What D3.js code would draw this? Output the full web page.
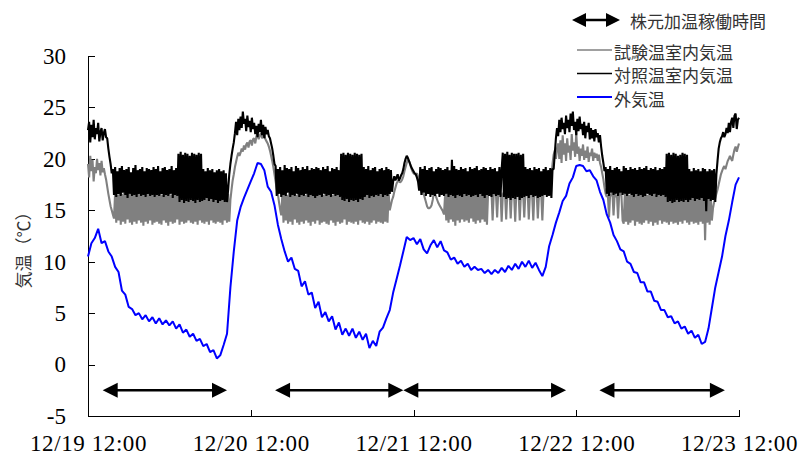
<!DOCTYPE html>
<html>
<head>
<meta charset="utf-8">
<script src="https://cdn.jsdelivr.net/npm/d3@7"></script>
<style>
  body { margin: 0; background: #fff; }
  svg { display: block; }
  .axis path, .axis line { stroke: #000; shape-rendering: crispEdges; }
</style>
</head>
<body>
<svg id="chart" width="800" height="455"></svg>
<script>
// ---- data ----
const startTime = "12/19 12:00";
const endTime = "12/23 12:00";
const greenhouseStepMin = 10;   // 試験 / 対照 sampled every 10 min
const outsideStepMin = 30;      // 外気温 every 30 min

const xTickLabels = ["12/19 12:00", "12/20 12:00", "12/21 12:00", "12/22 12:00", "12/23 12:00"];
const yTicks = [-5, 0, 5, 10, 15, 20, 25, 30];

const seriesNames = ["試験温室内気温", "対照温室内気温", "外気温"];
const heatingLabel = "株元加温稼働時間";
const heatingPeriods = [
  ["12/19 14:10", "12/20 08:30"],
  ["12/20 15:35", "12/21 10:30"],
  ["12/21 10:30", "12/22 10:30"],
  ["12/22 15:25", "12/23 09:55"]
];
const heatingArrowLevel = -2.5;

// 試験温室内気温 (gray)
const testHouse = [
  // 12/19 12:00 -
  19.5,18.2,20.3,18.8,19.9,17.8,19.2,18.6,20.0,18.9,19.6,18.4,19.8,18.7,19.1,
  18.5,18.0,17.3,16.6,16.0,15.4,15.0,14.6,14.2,
  // heating 1
  16.7,13.8,16.5,14.0,16.8,13.6,16.6,13.9,16.7,13.7,
  16.5,14.1,16.8,13.8,16.6,13.6,16.7,13.9,16.5,13.7,
  16.8,14.0,16.6,13.8,16.7,13.5,16.5,13.9,16.8,13.7,
  16.6,14.0,16.7,13.6,16.5,13.8,16.8,13.9,16.6,13.7,
  16.7,13.6,16.5,14.0,16.8,13.8,16.6,13.5,16.7,13.9,
  16.5,13.7,16.8,13.8,16.6,14.1,16.7,13.6,16.5,13.9,
  16.8,13.7,16.6,13.8,16.7,14.0,16.5,13.8,16.6,13.7,
  16.8,13.9,16.5,13.6,16.7,14.0,16.6,13.8,16.8,13.7,
  16.5,13.9,16.7,13.6,16.6,14.0,16.8,13.8,16.5,13.7,
  16.7,13.9,16.6,13.8,16.8,13.6,16.5,14.0,16.7,13.8,
  16.6,13.9,
  // 12/20 daytime
  16.0,17.0,17.9,18.5,19.2,19.7,20.2,20.6,20.3,20.6,
  21.0,20.7,21.3,20.9,21.4,21.6,21.1,21.7,21.8,21.3,
  21.9,22.0,21.5,22.2,22.4,21.9,22.3,22.5,22.0,22.3,
  22.3,21.9,21.7,21.5,21.2,20.8,20.3,19.8,19.2,18.5,
  17.8,17.1,16.6,15.8,15.1,14.5,
  // heating 2
  16.6,13.8,16.8,14.0,16.5,13.7,16.7,13.9,16.6,13.6,
  16.8,14.1,16.5,13.8,16.7,13.6,16.6,13.9,16.8,13.7,
  16.5,14.0,16.7,13.8,16.6,13.5,16.8,13.9,16.5,13.7,
  16.7,14.0,16.6,13.6,16.8,13.8,16.5,13.9,16.7,13.7,
  16.6,13.6,16.8,14.0,16.5,13.8,16.7,13.5,16.6,13.9,
  16.8,13.7,16.5,13.8,16.7,14.1,16.6,13.6,16.8,13.9,
  16.5,13.8,16.7,13.7,16.6,13.9,16.8,13.6,16.5,14.0,
  16.7,13.8,16.6,13.7,16.8,13.9,16.5,13.6,16.7,13.8,
  16.6,14.0,16.8,13.7,16.5,13.9,16.7,13.8,16.6,13.7,
  16.8,13.9,16.5,13.8,16.7,
  // 12/21 morning
  15.0,15.5,16.0,16.3,16.8,17.2,17.6,17.8,17.9,17.7,
  17.8,18.0,18.3,18.8,19.2,19.6,19.9,19.8,19.5,19.1,
  18.8,18.6,18.5,18.5,18.6,18.3,17.8,17.2,16.8,16.6,
  16.6,16.2,15.8,15.4,15.2,15.2,15.3,15.5,16.0,16.7,
  16.6,16.3,16.0,15.7,15.5,15.3,15.1,14.9,14.6,
  // heating 3
  16.6,14.0,16.8,13.8,16.5,14.1,16.7,13.9,16.6,13.5,
  16.8,14.0,16.5,13.8,16.7,14.1,16.6,13.9,16.8,14.0,
  16.5,13.8,16.7,14.2,16.6,13.9,16.8,13.7,16.5,14.0,
  16.7,13.8,16.6,14.1,16.8,13.9,16.5,13.6,16.7,
  16.7,16.5,16.8,14.0,16.6,16.7,16.5,14.3,16.8,16.6,16.7,13.9,
  16.5,16.8,16.6,14.1,16.7,16.5,16.8,14.2,16.6,16.7,16.5,13.9,
  16.8,16.6,16.7,14.0,16.5,16.8,16.6,14.3,16.7,16.5,16.8,14.1,
  16.6,16.7,16.5,14.0,16.8,16.6,16.7,14.2,16.5,16.8,16.6,14.0,
  16.7,16.6,16.8,
  // 12/22 daytime
  16.8,16.9,17.0,17.6,18.4,19.5,20.4,20.8,20.0,21.0,21.5,
  20.0,21.8,19.6,22.3,20.4,21.5,19.8,22.0,20.6,21.3,
  19.9,22.4,20.8,21.6,20.2,22.5,20.5,21.2,19.8,21.0,
  20.3,21.4,19.9,20.8,20.1,21.2,19.7,20.6,20.3,21.0,
  19.8,20.6,20.1,20.5,19.8,20.4,19.6,
  19.2,18.6,18.0,17.2,16.6,16.3,
  // heating 4
  16.5,14.3,16.6,16.4,16.7,14.5,16.6,16.3,16.5,14.2,16.6,16.7,16.4,14.0,
  13.7,16.6,13.9,16.8,13.6,16.5,13.8,16.7,14.0,16.6,
  13.5,16.8,13.9,16.5,13.7,16.7,13.6,16.6,13.8,16.8,
  14.0,16.5,13.7,16.7,13.9,16.6,13.5,16.8,13.8,16.5,
  13.6,16.7,14.0,16.6,13.7,16.8,13.9,16.5,13.8,16.7,
  13.6,16.6,13.9,16.8,13.7,16.5,13.8,16.7,13.6,16.6,
  13.9,16.8,13.7,16.5,14.0,16.7,13.8,16.6,13.6,16.8,
  13.9,16.5,13.7,16.7,13.8,16.6,13.6,16.8,13.9,16.5,
  13.7,16.7,12.1,16.6,13.8,16.8,13.6,16.5,14.0,
  // 12/23 morning
  15.2,15.8,16.2,16.6,17.0,17.5,18.0,18.5,18.8,19.1,19.3,19.0,
  19.4,19.8,20.0,20.3,20.0,19.8,20.4,20.9,21.2,20.7,21.1,21.5
];

// 対照温室内気温 (black)
const controlHouse = [
  // 12/19 12:00 -
  22.8,23.6,21.6,23.3,22.1,23.8,21.9,23.0,22.4,23.5,21.7,22.6,23.0,21.8,22.5,22.9,22.1,
  22.0,21.0,20.2,19.5,18.6,
  // heating 1
  19.0,16.5,19.2,16.3,18.8,16.6,19.1,16.4,19.3,16.7,18.9,16.5,19.0,16.2,19.2,16.6,18.7,16.4,19.1,16.5,
  19.4,16.3,18.9,16.6,19.0,16.4,19.2,16.5,18.8,16.3,19.1,16.6,19.0,16.4,18.9,16.5,19.2,16.3,19.0,16.5,
  19.3,16.4,18.8,16.6,19.1,16.3,19.2,16.5,18.9,16.4,19.0,16.6,19.3,16.2,18.9,16.5,19.1,16.4,
  20.5,15.8,20.7,16.0,20.4,15.7,20.6,15.9,20.5,15.8,20.3,16.0,20.6,15.9,20.5,15.7,20.4,16.0,20.6,15.8,
  20.5,15.9,
  19.0,16.0,18.8,16.2,19.1,15.9,18.9,16.1,19.0,15.8,18.7,16.0,18.9,15.7,19.0,15.9,18.8,16.0,18.9,15.8,
  18.6,15.8,
  // 12/20 daytime
  17.0,18.5,19.5,20.3,21.0,21.6,
  22.5,23.6,22.3,23.9,22.8,24.1,23.0,24.6,23.4,23.9,
  22.7,24.2,23.1,23.7,22.6,24.0,22.9,23.5,22.4,23.2,
  22.1,23.4,22.6,23.8,22.3,23.3,22.0,23.1,22.4,22.8,22.2,
  22.0,21.5,21.0,20.3,19.5,
  // heating 2
  19.3,16.4,19.0,16.6,19.2,16.3,18.9,16.5,19.4,16.4,19.1,16.7,19.0,16.3,19.2,16.5,18.8,16.4,19.3,16.6,
  19.1,16.3,18.9,16.5,19.2,16.4,19.0,16.6,19.3,16.3,18.9,16.5,19.1,16.4,19.0,16.2,19.2,16.4,19.1,16.5,
  18.9,16.3,19.2,16.6,19.0,16.4,19.3,16.5,18.8,16.3,19.1,16.6,19.0,16.4,19.2,16.5,18.9,16.3,
  20.5,16.0,20.6,15.9,20.4,16.1,20.6,15.8,20.5,16.0,20.4,15.9,20.6,16.0,20.5,15.8,20.4,16.1,20.5,16.0,
  19.2,16.3,19.0,16.5,19.3,16.2,18.9,16.4,19.1,16.3,19.2,16.5,18.8,16.4,19.0,16.6,19.1,16.3,18.9,16.5,
  19.2,16.4,19.0,16.6,18.9,16.8,
  // 12/21 morning
  17.8,18.3,17.9,18.2,18.5,17.9,18.1,18.4,18.6,19.0,19.6,20.0,
  20.3,20.1,19.8,19.5,19.2,19.0,18.8,18.6,18.5,18.2,17.8,
  // heating 3
  16.9,19.2,16.5,19.0,16.7,19.3,16.4,18.9,16.6,19.1,
  16.3,19.2,16.5,18.8,16.4,19.0,16.6,19.2,16.3,19.1,
  16.5,18.9,16.4,19.0,16.6,19.2,16.3,18.9,16.5,19.9,
  16.4,19.3,16.2,19.0,16.5,18.9,16.4,19.2,16.3,19.0,
  16.6,19.1,16.4,18.8,16.5,19.2,16.3,19.0,16.4,19.1,
  16.5,19.3,16.3,18.9,16.6,19.0,16.4,19.2,16.2,19.1,
  16.5,18.9,16.4,19.2,16.3,19.0,16.6,19.1,16.4,18.8,
  16.5,19.2,16.3,19.0,
  20.6,16.3,20.5,16.1,20.7,16.2,20.4,16.0,20.6,16.2,20.5,16.1,20.5,16.3,20.6,16.0,20.4,16.2,20.5,
  16.3,19.2,16.4,19.0,16.2,19.1,16.5,18.9,16.3,19.2,16.4,19.0,16.2,19.1,16.3,18.8,16.4,19.0,16.5,19.2,
  16.3,18.9,16.4,19.1,16.2,19.0,
  // 12/22 daytime
  19.0,20.5,22.0,23.0,
  22.2,23.8,22.6,24.0,22.9,23.5,22.4,24.2,23.0,23.8,
  22.6,24.4,23.2,24.6,22.8,23.6,22.3,23.9,22.7,24.1,
  22.9,23.4,22.3,23.6,22.0,23.2,22.6,23.5,21.9,23.0,
  22.0,22.8,21.7,22.9,22.1,22.5,21.6,22.3,
  21.2,20.3,19.6,18.8,
  // heating 4
  19.2,16.6,19.0,16.4,19.3,16.7,18.9,16.5,19.1,16.6,
  19.2,16.4,19.0,16.7,18.8,16.5,19.3,16.6,19.1,16.4,
  18.9,16.6,19.2,16.5,19.0,16.3,19.1,16.6,18.9,16.4,
  19.2,16.5,19.0,16.3,19.1,16.4,19.3,16.6,18.9,16.5,
  19.1,16.4,19.0,16.6,19.2,16.3,18.9,16.5,19.1,16.4,
  19.0,16.5,19.2,16.3,
  20.5,15.8,20.6,15.9,20.4,15.7,20.6,15.8,20.5,16.0,20.3,15.8,20.4,15.9,20.6,15.8,20.5,16.0,20.4,15.8,
  19.0,16.0,18.8,16.2,19.1,15.9,18.9,16.1,19.0,16.0,18.8,16.2,19.1,15.9,19.0,14.9,18.8,16.1,19.0,15.9,
  18.9,16.0,19.0,15.8,
  // 12/23 morning
  18.5,19.8,21.0,21.6,22.0,22.2,22.6,22.1,22.4,23.0,22.5,
  23.5,22.6,23.6,24.0,23.0,24.2,24.4,22.9,23.8,24.0
];

// 外気温 (blue)
const outside = [
  10.5,11.8,12.3,13.2,11.8,12.0,11.0,10.5,9.5,9.0,
  7.2,6.8,5.6,5.4,4.8,5.0,4.4,4.8,4.2,4.6,
  4.0,4.5,3.9,4.3,3.8,4.2,3.5,3.9,3.1,3.4,
  2.7,3.0,2.3,2.5,1.8,2.0,1.2,1.4,0.6,0.9,
  1.9,3.0,7.5,11.0,14.0,15.3,16.2,17.0,17.8,18.6,
  19.6,19.5,18.9,17.3,16.8,15.5,13.6,12.2,11.0,10.0,
  10.4,9.3,9.1,7.6,8.1,6.8,7.0,5.5,6.1,4.6,
  5.1,4.2,4.7,3.4,4.1,2.9,3.5,2.8,3.5,2.6,
  3.2,2.4,3.0,1.6,2.3,1.8,3.2,3.6,4.5,5.3,
  7.0,8.3,9.6,11.0,12.4,12.1,12.3,11.7,12.2,11.2,
  10.8,11.6,12.1,11.4,12.0,11.1,10.9,10.2,10.4,9.8,
  10.1,9.5,9.8,9.2,9.5,9.2,9.3,8.9,9.2,8.8,
  9.2,8.9,9.4,9.0,9.6,9.2,9.8,9.3,10.0,9.5,
  10.1,9.4,9.9,9.2,8.6,9.5,11.5,12.6,13.8,14.8,
  15.9,16.4,17.6,18.2,19.3,19.4,19.3,18.8,18.9,18.3,
  17.9,16.8,16.0,14.6,13.8,12.6,12.0,11.2,11.0,10.0,
  9.8,9.0,8.9,8.0,8.0,7.1,7.1,6.2,6.1,5.3,
  5.3,4.6,4.7,4.0,4.2,3.5,3.7,3.0,3.3,2.6,
  2.9,2.0,2.2,3.5,5.5,7.5,9.0,10.5,12.5,14.0,
  15.8,17.5,18.2
];

// ---- layout ----
const plot = {left: 88, right: 739, top: 56, bottom: 416};
const serifFont = '"Liberation Serif", "Times New Roman", serif';
const jpFont = '"Noto Sans CJK JP", "Noto Sans", sans-serif';

const parseTime = s => d3.timeParse("%Y/%m/%d %H:%M")("2000/" + s);
const t0 = parseTime(startTime);

const svg = d3.select("#chart");

const x = d3.scaleTime()
  .domain([t0, parseTime(endTime)])
  .range([plot.left, plot.right]);

const y = d3.scaleLinear()
  .domain([d3.min(yTicks), d3.max(yTicks)])
  .range([plot.bottom, plot.top]);

const jpText = (g) => g
  .style("font-family", jpFont)
  .style("font-size", "17px")
  .style("fill", "#333");

function drawAxes() {
  let xg = svg.append("g")
    .attr("class", "axis")
    .attr("transform", `translate(0,${plot.bottom})`)
    .call(d3.axisBottom(x)
      .tickValues(xTickLabels.map(parseTime))
      .tickFormat(d3.timeFormat("%m/%d %H:%M"))
      .tickSizeInner(-6)
      .tickSizeOuter(0)
      .tickPadding(19));

  let yg = svg.append("g")
    .attr("class", "axis")
    .attr("transform", `translate(${plot.left},0)`)
    .call(d3.axisLeft(y)
      .tickValues(yTicks)
      .tickFormat(d => String(d))
      .tickSizeInner(-7)
      .tickSizeOuter(0)
      .tickPadding(22));

  for (const g of [xg, yg]) {
    g.selectAll("text")
      .style("font-family", serifFont)
      .style("font-size", "23px")
      .style("fill", "#000");
  }
  xg.selectAll("text").style("letter-spacing", "0.6px");

  svg.append("text")
    .call(jpText)
    .attr("transform", "translate(22,246) rotate(-90)")
    .attr("text-anchor", "middle")
    .attr("dominant-baseline", "central")
    .text("気温（℃）");
}

function drawSeries(values, stepMin, color, width) {
  const line = d3.line()
    .x((d, i) => x(d3.timeMinute.offset(t0, i * stepMin)))
    .y(d => y(d));

  svg.append("path")
    .datum(values)
    .attr("fill", "none")
    .attr("stroke", color)
    .attr("stroke-width", width)
    .attr("stroke-linejoin", "bevel")
    .attr("d", line);
}

// double headed arrow between x1 and x2
function drawArrow(x1, x2, yPos, head, half, width) {
  let g = svg.append("g");
  g.append("line")
    .attr("x1", x1 + head - 1).attr("x2", x2 - head + 1)
    .attr("y1", yPos).attr("y2", yPos)
    .attr("stroke", "#000")
    .attr("stroke-width", width);
  g.append("path")
    .attr("d", `M${x1},${yPos}L${x1 + head},${yPos - half}L${x1 + head},${yPos + half}Z`)
    .attr("fill", "#000");
  g.append("path")
    .attr("d", `M${x2},${yPos}L${x2 - head},${yPos - half}L${x2 - head},${yPos + half}Z`)
    .attr("fill", "#000");
}

function drawLegend() {
  drawArrow(572, 620, 20, 14, 7, 2.5);
  svg.append("text")
    .call(jpText)
    .attr("x", 630).attr("y", 20)
    .attr("dominant-baseline", "central")
    .text(heatingLabel);

  const colors = ["#808080", "#000000", "#0000ff"];
  seriesNames.forEach((name, i) => {
    const ly = 50 + i * 23.5;
    svg.append("line")
      .attr("x1", 577).attr("x2", 612)
      .attr("y1", ly).attr("y2", ly)
      .attr("stroke", colors[i])
      .attr("stroke-width", i === 2 ? 2 : 1.5);
    svg.append("text")
      .call(jpText)
      .attr("x", 614).attr("y", ly + 1)
      .attr("dominant-baseline", "central")
      .text(name);
  });
}

drawAxes();
drawSeries(testHouse, greenhouseStepMin, "#808080", 2.1);
drawSeries(controlHouse, greenhouseStepMin, "#000000", 2.1);
drawSeries(outside, outsideStepMin, "#0000ff", 2);

for (const [s, e] of heatingPeriods) {
  drawArrow(x(parseTime(s)), x(parseTime(e)), y(heatingArrowLevel), 15, 7.5, 2.5);
}

drawLegend();
</script>
</body>
</html>
